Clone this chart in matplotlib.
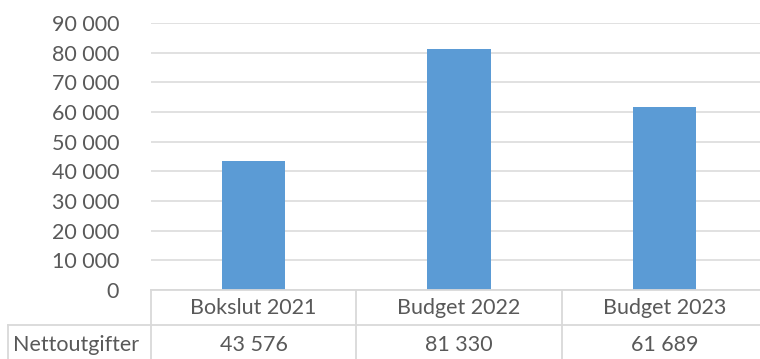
import numpy as np
import matplotlib
matplotlib.use("Agg")
import matplotlib.pyplot as plt
from matplotlib.lines import Line2D
from matplotlib.transforms import blended_transform_factory

# data
categories = ["Bokslut 2021", "Budget 2022", "Budget 2023"]
values = [43576, 81330, 61689]
series_name = "Nettoutgifter"
yticks = np.arange(0, 90001, 10000)

def fmt(v):
    return f"{v:,}".replace(",", " ")

plt.rcParams['font.family'] = ['Lato', 'DejaVu Sans']
txt = '#595959'
grid = '#D9D9D9'
fs = 15.5
W, H = 760, 359

fig = plt.figure(figsize=(W/100, H/100), dpi=100)
# axes placed in pixel units
x0, x1, ytop, ybot = 151, 767, 23, 290
ax = fig.add_axes([x0/W, 1-ybot/H, (x1-x0)/W, (ybot-ytop)/H])

x = np.arange(len(categories))
ax.bar(x, values, width=0.31, color='#5B9BD5', zorder=3)
ax.set_xlim(-0.5, 2.5)
ax.set_ylim(0, 90000)
ax.set_yticks(yticks)
ax.set_yticklabels([fmt(v) for v in yticks], fontsize=fs, color=txt)
ax.tick_params(axis='y', length=0, pad=23)
ax.set_xticks([])
ax.grid(axis='y', color=grid, linewidth=1.1, zorder=0)
for s in ax.spines.values():
    s.set_visible(False)

# data table under the chart
tr = blended_transform_factory(ax.transData, fig.transFigure)
fy = lambda py: 1 - py/H
row1, row2, rowend = 290, 325, 362
lc = '#D9D9D9'
lw = 1.3
fig.add_artist(Line2D([-0.5, 2.5], [fy(row1)]*2, transform=tr, color=lc, lw=lw))
fig.add_artist(Line2D([8/W, 1.02], [fy(row2)]*2, transform=fig.transFigure, color=lc, lw=lw))
fig.add_artist(Line2D([8/W]*2, [fy(row2), fy(rowend)], transform=fig.transFigure, color=lc, lw=lw))
for b in [-0.5, 0.5, 1.5, 2.5]:
    fig.add_artist(Line2D([b, b], [fy(row1), fy(rowend)], transform=tr, color=lc, lw=lw))

for i, (c, v) in enumerate(zip(categories, values)):
    fig.text(i, fy(308), c, transform=tr, ha='center', va='center', fontsize=fs, color=txt)
    fig.text(i, fy(345), fmt(v), transform=tr, ha='center', va='center', fontsize=fs, color=txt)
fig.text(13/W, fy(345), series_name, ha='left', va='center', fontsize=fs, color=txt)

fig.savefig("out.png", dpi=100)
